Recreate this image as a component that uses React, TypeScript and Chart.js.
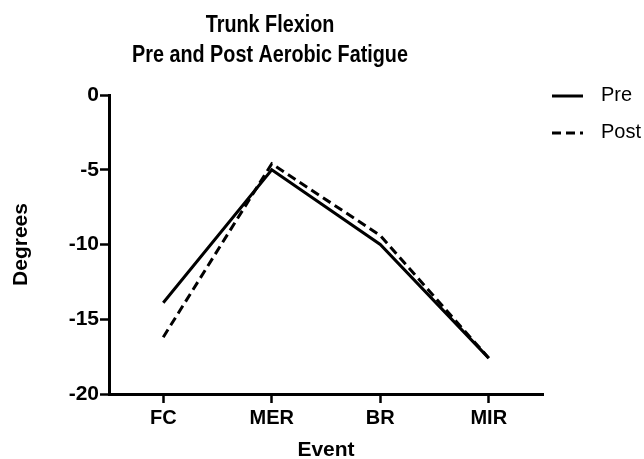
import React, { useEffect, useRef } from 'react';
import { Chart, registerables } from 'chart.js';

Chart.register(...registerables);

const TITLE_LINES = ['Trunk Flexion', 'Pre and Post Aerobic Fatigue'];
const CATEGORIES = ['FC', 'MER', 'BR', 'MIR'];
const PRE_VALUES = [-13.9, -5.0, -10.0, -17.6];
const POST_VALUES = [-16.2, -4.6, -9.4, -17.6];
const SERIES_LABELS = ['Pre', 'Post'];
const Y_MIN = -20;
const Y_MAX = 0;
const Y_STEP = 5;
const X_TITLE = 'Event';
const Y_TITLE = 'Degrees';

const FONT = '"Liberation Sans", Arial, Helvetica, sans-serif';
const W = 644;
const H = 459;

const titlePlugin = {
  id: 'customTitle',
  afterDraw(chart: any) {
    const ctx = chart.ctx;
    const cx = 270;
    const sx = 0.86;
    ctx.save();
    ctx.fillStyle = '#000';
    ctx.font = `bold 23px ${FONT}`;
    ctx.textAlign = 'center';
    ctx.textBaseline = 'alphabetic';
    ctx.translate(cx, 0);
    ctx.scale(sx, 1);
    ctx.fillText(TITLE_LINES[0], 0, 32);
    ctx.fillText(TITLE_LINES[1], 0, 62);
    ctx.restore();
  },
};

const legendPlugin = {
  id: 'customLegend',
  afterDraw(chart: any) {
    const ctx = chart.ctx;
    const area = chart.chartArea;
    ctx.save();
    chart.data.datasets.forEach((ds: any, i: number) => {
      const y = area.top + 1 + i * 37;
      const x0 = area.right + 9;
      ctx.strokeStyle = '#000';
      ctx.lineWidth = 3;
      ctx.setLineDash(ds.borderDash || []);
      ctx.beginPath();
      ctx.moveTo(x0, y);
      ctx.lineTo(x0 + 31, y);
      ctx.stroke();
      ctx.setLineDash([]);
      ctx.fillStyle = '#000';
      ctx.font = `20px ${FONT}`;
      ctx.textAlign = 'left';
      ctx.textBaseline = 'middle';
      ctx.fillText(ds.label, x0 + 49, y - 1);
    });
    ctx.restore();
  },
};

export default function App() {
  const canvasRef = useRef<HTMLCanvasElement | null>(null);

  useEffect(() => {
    if (!canvasRef.current) return;
    const chart = new Chart(canvasRef.current, {
      type: 'line',
      data: {
        labels: CATEGORIES,
        datasets: [
          {
            label: SERIES_LABELS[0],
            data: PRE_VALUES,
            borderColor: '#000',
            backgroundColor: '#000',
            borderWidth: 3,
            pointRadius: 0,
            tension: 0,
            fill: false,
          },
          {
            label: SERIES_LABELS[1],
            data: POST_VALUES,
            borderColor: '#000',
            backgroundColor: '#000',
            borderWidth: 3,
            borderDash: [9, 5],
            pointRadius: 0,
            tension: 0,
            fill: false,
          },
        ],
      },
      options: {
        responsive: false,
        animation: false,
        devicePixelRatio: 1,
        layout: { padding: { top: 95, right: 101, left: 0, bottom: 0 } },
        plugins: {
          legend: { display: false },
          title: { display: false },
          tooltip: { enabled: false },
        },
        scales: {
          x: {
            type: 'category',
            offset: true,
            afterFit(scale: any) {
              scale.height = 65;
            },
            grid: {
              display: true,
              drawOnChartArea: false,
              drawTicks: true,
              tickLength: 9,
              tickWidth: 2.5,
              color: '#000',
              offset: false,
            },
            border: { display: true, color: '#000', width: 3 },
            ticks: {
              color: '#000',
              font: { family: FONT, size: 20, weight: 'bold' },
              padding: 3,
              maxRotation: 0,
            },
            title: {
              display: true,
              text: X_TITLE,
              color: '#000',
              font: { family: FONT, size: 21, weight: 'bold', lineHeight: 0.8 },
              padding: { top: 0, bottom: 0 },
            },
          },
          y: {
            type: 'linear',
            min: Y_MIN,
            max: Y_MAX,
            afterFit(scale: any) {
              scale.width = 109;
            },
            grid: {
              display: true,
              drawOnChartArea: false,
              drawTicks: true,
              tickLength: 9,
              tickWidth: 2.5,
              color: '#000',
            },
            border: { display: true, color: '#000', width: 3 },
            ticks: {
              stepSize: Y_STEP,
              color: '#000',
              font: { family: FONT, size: 21, weight: 'bold' },
              padding: 1,
            },
            title: {
              display: true,
              text: Y_TITLE,
              color: '#000',
              font: { family: FONT, size: 21, weight: 'bold' },
              padding: { top: 9, bottom: 0 },
            },
          },
        },
      },
      plugins: [titlePlugin, legendPlugin],
    } as any);
    return () => chart.destroy();
  }, []);

  return (
    <div style={{ position: 'absolute', left: 0, top: 0, width: W, height: H, background: '#fff' }}>
      <canvas ref={canvasRef} width={W} height={H} style={{ display: 'block', width: W, height: H }} />
    </div>
  );
}
